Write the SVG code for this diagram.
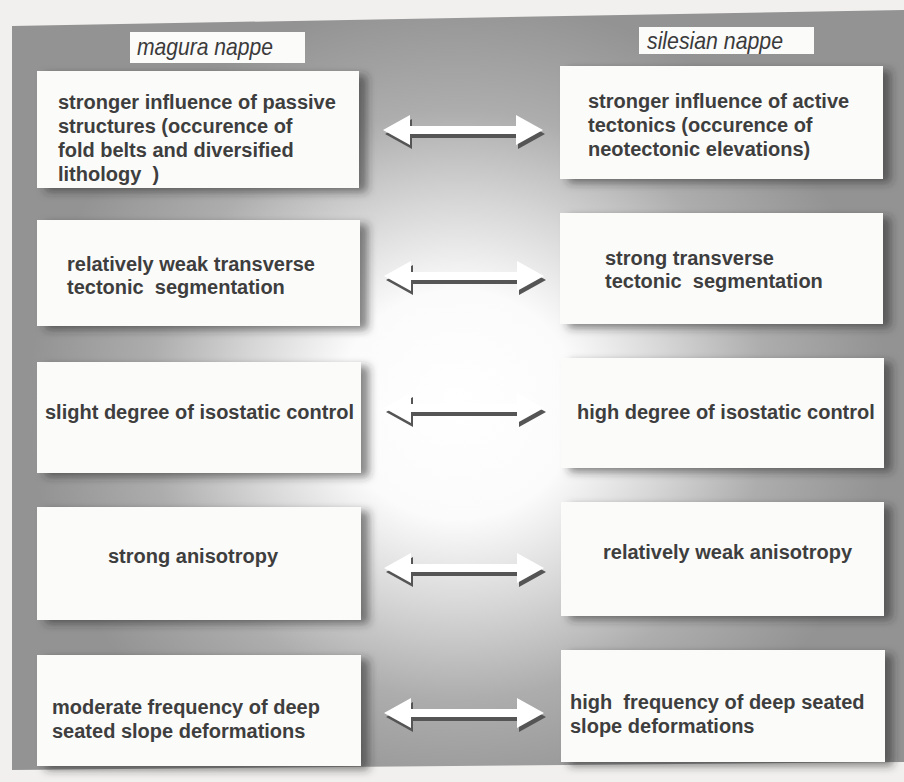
<svg xmlns="http://www.w3.org/2000/svg" width="904" height="782" viewBox="0 0 904 782">
<defs>
<radialGradient id="glow" gradientUnits="userSpaceOnUse" cx="458" cy="405" r="430" gradientTransform="translate(458 405) scale(1 0.95) translate(-458 -405)">
<stop offset="0" stop-color="#ffffff"/>
<stop offset="0.28" stop-color="#fbfbfb"/>
<stop offset="0.5" stop-color="#d6d6d6"/>
<stop offset="0.72" stop-color="#adadad"/>
<stop offset="1" stop-color="#939393"/>
</radialGradient>
<filter id="sh" x="-10%" y="-10%" width="130%" height="130%">
<feDropShadow dx="8" dy="4" stdDeviation="4" flood-color="#2a2a2a" flood-opacity="0.55"/>
</filter>
<polygon id="arr" points="-80,0 -53,-15 -53,-4 53,-4 53,-15 80,0 53,15 53,4 -53,4 -53,15"/>
</defs>
<style>
.box{fill:#fbfbfa;filter:url(#sh)}
.lab{fill:#fbfbfa}
.t{font-family:"Liberation Sans",Arial,sans-serif;font-weight:bold;font-size:20px;fill:#3e3e3e}
.h{font-family:"Liberation Sans",Arial,sans-serif;font-style:italic;font-size:24px;fill:#3a3a3a}
.as{fill:#555555}
.aw{fill:#ffffff}
</style>
<rect x="0" y="0" width="904" height="782" fill="#f1f0ee"/>
<polygon points="12,26 904,10 904,762 12,770" fill="url(#glow)"/>

<g id="header-magura">
<rect class="lab" x="130" y="32" width="175" height="31"/>
<text class="h" x="137" y="55" textLength="136" lengthAdjust="spacingAndGlyphs">magura nappe</text>
</g>
<g id="header-silesian">
<rect class="lab" x="639" y="27" width="175" height="27"/>
<text class="h" x="647" y="49" textLength="136" lengthAdjust="spacingAndGlyphs">silesian nappe</text>
</g>

<g id="m1">
<rect class="box" x="37" y="71" width="322" height="117"/>
<text class="t" x="58" y="109">stronger influence of passive</text>
<text class="t" x="58" y="133">structures (occurence of</text>
<text class="t" x="58" y="157">fold belts and diversified</text>
<text class="t" x="58" y="181" xml:space="preserve">lithology  )</text>
</g>
<g id="s1">
<rect class="box" x="560" y="66" width="323" height="113"/>
<text class="t" x="588" y="108">stronger influence of active</text>
<text class="t" x="588" y="132">tectonics (occurence of</text>
<text class="t" x="588" y="156">neotectonic elevations)</text>
</g>

<g id="m2">
<rect class="box" x="37" y="220" width="323" height="106"/>
<text class="t" x="67" y="271">relatively weak transverse</text>
<text class="t" x="67" y="294" xml:space="preserve">tectonic  segmentation</text>
</g>
<g id="s2">
<rect class="box" x="560" y="213" width="323" height="111"/>
<text class="t" x="605" y="265">strong transverse</text>
<text class="t" x="605" y="288" xml:space="preserve">tectonic  segmentation</text>
</g>

<g id="m3">
<rect class="box" x="37" y="362" width="324" height="111"/>
<text class="t" x="45" y="419">slight degree of isostatic control</text>
</g>
<g id="s3">
<rect class="box" x="561" y="358" width="323" height="110"/>
<text class="t" x="577" y="419">high degree of isostatic control</text>
</g>

<g id="m4">
<rect class="box" x="37" y="507" width="324" height="113"/>
<text class="t" x="108" y="563">strong anisotropy</text>
</g>
<g id="s4">
<rect class="box" x="561" y="502" width="323" height="114"/>
<text class="t" x="603" y="559">relatively weak anisotropy</text>
</g>

<g id="m5">
<rect class="box" x="37" y="655" width="324" height="111"/>
<text class="t" x="52" y="714">moderate frequency of deep</text>
<text class="t" x="52" y="738">seated slope deformations</text>
</g>
<g id="s5">
<rect class="box" x="561" y="650" width="324" height="112"/>
<text class="t" x="570" y="709" xml:space="preserve">high  frequency of deep seated</text>
<text class="t" x="570" y="733">slope deformations</text>
</g>

<g id="connectors">
<g transform="translate(463 130)"><use href="#arr" class="as" x="2" y="4"/><use href="#arr" class="aw"/></g>
<g transform="translate(464 276)"><use href="#arr" class="as" x="2" y="4"/><use href="#arr" class="aw"/></g>
<g transform="translate(464 408)"><use href="#arr" class="as" x="2" y="4"/><use href="#arr" class="aw"/></g>
<g transform="translate(464 568)"><use href="#arr" class="as" x="2" y="4"/><use href="#arr" class="aw"/></g>
<g transform="translate(464 713)"><use href="#arr" class="as" x="2" y="4"/><use href="#arr" class="aw"/></g>
</g>
</svg>
